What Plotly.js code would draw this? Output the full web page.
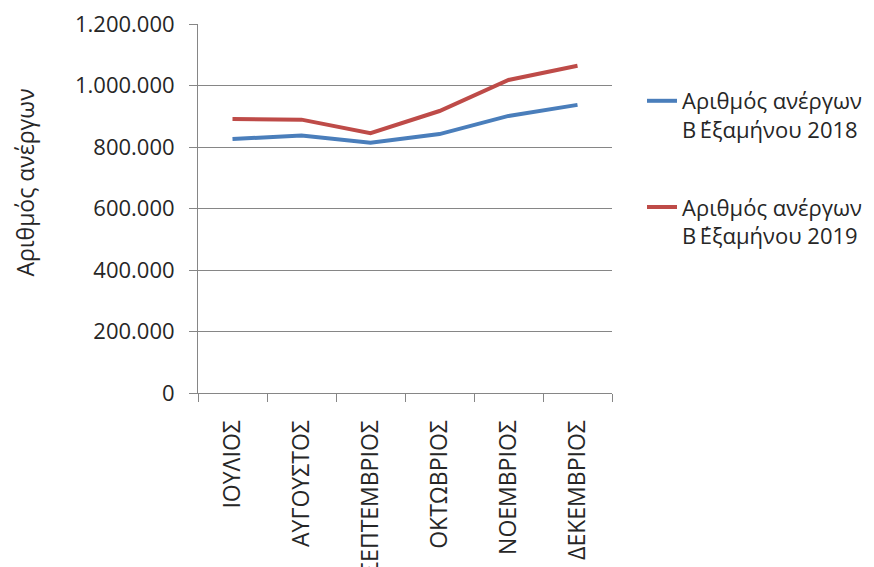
<!DOCTYPE html>
<html>
<head>
<meta charset="utf-8">
<script src="https://cdn.plot.ly/plotly-3.0.1.min.js"></script>
<style>html,body{margin:0;padding:0;background:#fff;}#chart{width:874px;height:567px;}</style>
</head>
<body>
<div id="chart"></div>
<script>
const months = ["ΙΟΥΛΙΟΣ", "ΑΥΓΟΥΣΤΟΣ", "ΣΕΠΤΕΜΒΡΙΟΣ", "ΟΚΤΩΒΡΙΟΣ", "ΝΟΕΜΒΡΙΟΣ", "ΔΕΚΕΜΒΡΙΟΣ"];
const unemployed2018 = [826000, 837000, 814000, 842000, 901000, 937000];
const unemployed2019 = [891000, 889000, 845000, 917000, 1018000, 1064000];
const seriesNames = ["Αριθμός ανέργων<br>Β\u2009΄Εξαμήνου 2018", "Αριθμός ανέργων<br>Β\u2009΄Εξαμήνου 2019"];
const yTickVals = [0, 200000, 400000, 600000, 800000, 1000000, 1200000];
const yTickText = ["0", "200.000", "400.000", "600.000", "800.000", "1.000.000", "1.200.000"];
const yTitle = "Αριθμός ανέργων";

const font = "Open Sans, Noto Sans, sans-serif";
const txt = "#262626";
const traces = [
  {x: months, y: unemployed2018, name: seriesNames[0], type: "scatter", mode: "lines",
   line: {color: "#4A7EBB", width: 4}, legendgroup: "a"},
  {x: months, y: unemployed2019, name: seriesNames[1], type: "scatter", mode: "lines",
   line: {color: "#BE4B48", width: 4}, legendgroup: "b"}
];
const layout = {
  width: 874, height: 567,
  margin: {l: 198, r: 262, t: 24, b: 174},
  paper_bgcolor: "#fff", plot_bgcolor: "#fff",
  font: {family: font, size: 22, color: txt},
  showlegend: true,
  legend: {xref: "container", yref: "container", x: 642 / 874, xanchor: "left",
           y: 1 - 80 / 567, yanchor: "top", valign: "top",
           tracegroupgap: 46, font: {size: 22, family: font, color: txt}},
  xaxis: {type: "category", range: [-0.5, 5.5], tickson: "boundaries", ticks: "outside", ticklen: 8,
          tickcolor: "#868686", showline: true, linecolor: "#868686", linewidth: 1,
          showgrid: false, tickangle: -90, tickfont: {size: 23, family: font, color: txt},
          ticklabelstandoff: 17, fixedrange: true},
  yaxis: {range: [0, 1200000], tickvals: yTickVals, ticktext: yTickText,
          ticks: "outside", ticklen: 8, tickcolor: "#868686",
          showline: true, linecolor: "#868686", linewidth: 1,
          showgrid: true, gridcolor: "#868686", gridwidth: 1, zeroline: false,
          tickfont: {size: 22, family: font, color: txt}, ticklabelstandoff: 10, fixedrange: true},
  annotations: [{text: yTitle, textangle: -90, xref: "paper", yref: "paper",
                 x: -0.418, y: 0.57, xanchor: "center", yanchor: "middle", showarrow: false,
                 font: {size: 23, family: font, color: txt}}]
};
Plotly.newPlot("chart", traces, layout, {displayModeBar: false, staticPlot: true});
</script>
</body>
</html>
